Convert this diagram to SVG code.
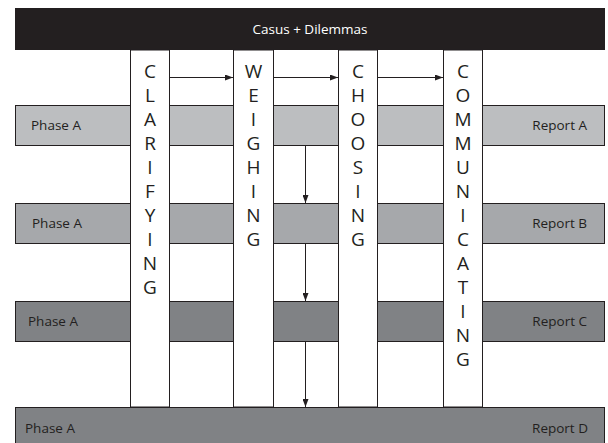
<svg xmlns="http://www.w3.org/2000/svg" width="608" height="443" viewBox="0 0 608 443">
<style>
.row{stroke:#231f20;stroke-width:1}
.col{fill:#ffffff;stroke:#231f20;stroke-width:1}
.lbl{font-family:"Open Sans","Noto Sans","Liberation Sans",sans-serif;font-size:13.5px;fill:#231f20}
.vt{font-family:"Open Sans","Noto Sans","Liberation Sans",sans-serif;font-size:19px;fill:#231f20;text-anchor:middle}
.con{stroke:#231f20;stroke-width:1;fill:none;marker-end:url(#ah)}
</style>
<defs>
<marker id="ah" viewBox="0 0 8 6" refX="8" refY="3" markerWidth="8" markerHeight="6" markerUnits="userSpaceOnUse" orient="auto">
<path d="M0,0 L8,3 L0,6 Z" fill="#231f20"/>
</marker>
</defs>
<rect x="0" y="0" width="608" height="443" fill="#ffffff"/>
<g id="header">
<rect x="15" y="8" width="590" height="42" fill="#231f20"/>
<text x="310" y="34" class="lbl" style="fill:#ffffff" text-anchor="middle">Casus + Dilemmas</text>
</g>
<g id="row-a">
<rect class="row" x="15.5" y="105.5" width="589" height="40" fill="#bcbec0"/>
<text class="lbl" x="31" y="130">Phase A</text>
<text class="lbl" x="587" y="130" text-anchor="end">Report A</text>
</g>
<g id="row-b">
<rect class="row" x="15.5" y="203.5" width="589" height="40" fill="#a6a8ab"/>
<text class="lbl" x="32" y="228">Phase A</text>
<text class="lbl" x="587" y="228" text-anchor="end">Report B</text>
</g>
<g id="row-c">
<rect class="row" x="15.5" y="301.5" width="589" height="40" fill="#808285"/>
<text class="lbl" x="28" y="326">Phase A</text>
<text class="lbl" x="587" y="326" text-anchor="end">Report C</text>
</g>
<g id="row-d">
<rect class="row" x="15.5" y="407.5" width="589" height="40" fill="#808285"/>
<text class="lbl" x="25" y="433">Phase A</text>
<text class="lbl" x="588" y="433" text-anchor="end">Report D</text>
</g>
<g id="clarifying">
<rect class="col" x="130.5" y="50" width="39" height="357"/>
<text class="vt" x="150" y="78">C</text><text class="vt" x="150" y="102">L</text><text class="vt" x="150" y="126">A</text><text class="vt" x="150" y="150">R</text><text class="vt" x="150" y="174">I</text><text class="vt" x="150" y="198">F</text><text class="vt" x="150" y="222">Y</text><text class="vt" x="150" y="246">I</text><text class="vt" x="150" y="270">N</text><text class="vt" x="150" y="294">G</text>
</g>
<g id="weighing">
<rect class="col" x="233.5" y="50" width="40" height="357"/>
<text class="vt" x="253.5" y="78">W</text><text class="vt" x="253.5" y="102">E</text><text class="vt" x="253.5" y="126">I</text><text class="vt" x="253.5" y="150">G</text><text class="vt" x="253.5" y="174">H</text><text class="vt" x="253.5" y="198">I</text><text class="vt" x="253.5" y="222">N</text><text class="vt" x="253.5" y="246">G</text>
</g>
<g id="choosing">
<rect class="col" x="338.5" y="50" width="39" height="357"/>
<text class="vt" x="358" y="78">C</text><text class="vt" x="358" y="102">H</text><text class="vt" x="358" y="126">O</text><text class="vt" x="358" y="150">O</text><text class="vt" x="358" y="174">S</text><text class="vt" x="358" y="198">I</text><text class="vt" x="358" y="222">N</text><text class="vt" x="358" y="246">G</text>
</g>
<g id="communicating">
<rect class="col" x="443.5" y="50" width="39" height="357"/>
<text class="vt" x="463" y="78">C</text><text class="vt" x="463" y="102">O</text><text class="vt" x="463" y="126">M</text><text class="vt" x="463" y="150">M</text><text class="vt" x="463" y="174">U</text><text class="vt" x="463" y="198">N</text><text class="vt" x="463" y="222">I</text><text class="vt" x="463" y="246">C</text><text class="vt" x="463" y="270">A</text><text class="vt" x="463" y="294">T</text><text class="vt" x="463" y="318">I</text><text class="vt" x="463" y="342">N</text><text class="vt" x="463" y="366">G</text>
</g>
<g id="connectors">
<line class="con" x1="170" y1="77.5" x2="233" y2="77.5"/>
<line class="con" x1="274" y1="77.5" x2="338" y2="77.5"/>
<line class="con" x1="378" y1="77.5" x2="443" y2="77.5"/>
<line class="con" x1="305.5" y1="146" x2="305.5" y2="203"/>
<line class="con" x1="305.5" y1="244" x2="305.5" y2="301"/>
<line class="con" x1="305.5" y1="342" x2="305.5" y2="407"/>
</g>
</svg>
